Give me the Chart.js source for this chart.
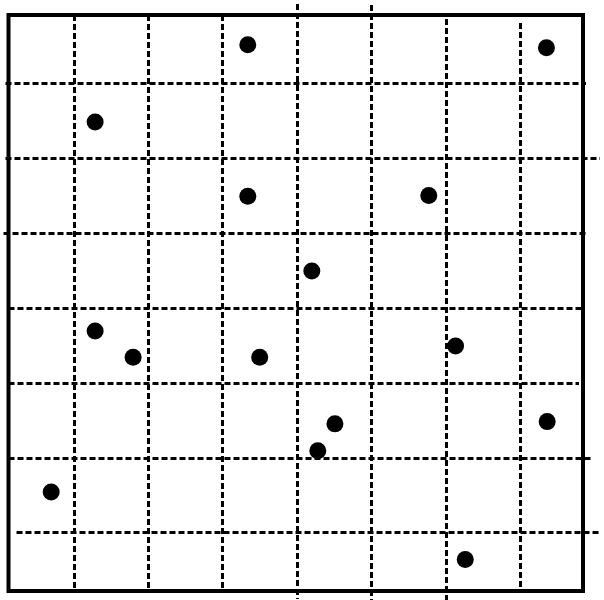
<!DOCTYPE html>
<html>
<head>
<meta charset="utf-8">
<script src="https://cdn.jsdelivr.net/npm/chart.js@4.4.1/dist/chart.umd.min.js"></script>
<style>
  html, body { margin: 0; padding: 0; background: #fff; }
  canvas { display: block; }
</style>
</head>
<body>
<canvas id="myChart" width="604" height="600"></canvas>
<script>
// scatter points (grid lines sit on whole numbers)
const xValues = [3.34, 7.35, 1.29, 3.34, 5.77, 4.20, 1.29, 1.80, 3.50, 6.13, 7.36, 4.51, 4.28, 0.70, 6.26];
const yValues = [7.51, 7.47, 6.48, 5.49, 5.50, 4.49, 3.69, 3.34, 3.34, 3.49, 2.48, 2.45, 2.09, 1.54, 0.64];

const xGridValues = [1, 2, 3, 4, 5, 6, 7];
const yGridValues = [1, 2, 3, 4, 5, 6, 7];
const xRange = [0.127, 7.841];
const yRange = [0.219, 7.908];

// how far each dashed line runs past the frame, px (negative = stops short)
const xGridOvershoot = [[0, 0], [0, 0], [0, 0], [11, 8], [10, 10], [-4, 9], [-8, 0]]; // top, bottom
const yGridOvershoot = [[-8, 16], [0, 10], [0, -4], [0, 0], [5, 3], [3, 17], [3, 3]]; // left, right

const points = xValues.map((x, i) => ({ x: x, y: yValues[i] }));

const frameAndGrid = {
    id: 'frameAndGrid',
    beforeDatasetsDraw(chart) {
        const ctx = chart.ctx;
        const area = chart.chartArea;
        const xs = chart.scales.x;
        const ys = chart.scales.y;
        ctx.save();
        ctx.strokeStyle = '#000';
        ctx.lineWidth = 3;
        ctx.setLineDash([6, 3]);
        xGridValues.forEach((v, i) => {
            const px = Math.round(xs.getPixelForValue(v)) + 0.5;
            const o = xGridOvershoot[i];
            ctx.beginPath();
            ctx.moveTo(px, area.top - o[0]);
            ctx.lineTo(px, area.bottom + o[1]);
            ctx.stroke();
        });
        yGridValues.forEach((v, i) => {
            const py = Math.round(ys.getPixelForValue(v)) + 0.5;
            const o = yGridOvershoot[i];
            ctx.beginPath();
            ctx.moveTo(area.left - o[0], py);
            ctx.lineTo(area.right + o[1], py);
            ctx.stroke();
        });
        ctx.setLineDash([]);
        ctx.lineWidth = 4;
        ctx.strokeRect(area.left, area.top, area.right - area.left, area.bottom - area.top);
        ctx.restore();
    }
};

new Chart(document.getElementById('myChart'), {
    type: 'scatter',
    data: {
        datasets: [{
            data: points,
            backgroundColor: '#000',
            borderWidth: 0,
            pointRadius: 8.5,
            pointHoverRadius: 8.5
        }]
    },
    options: {
        responsive: false,
        animation: false,
        devicePixelRatio: 1,
        layout: { padding: { left: 6, top: 15, right: 21, bottom: 9 } },
        scales: {
            x: { type: 'linear', display: false, min: xRange[0], max: xRange[1] },
            y: { type: 'linear', display: false, min: yRange[0], max: yRange[1] }
        },
        plugins: {
            legend: { display: false },
            tooltip: { enabled: false }
        }
    },
    plugins: [frameAndGrid]
});
</script>
</body>
</html>
